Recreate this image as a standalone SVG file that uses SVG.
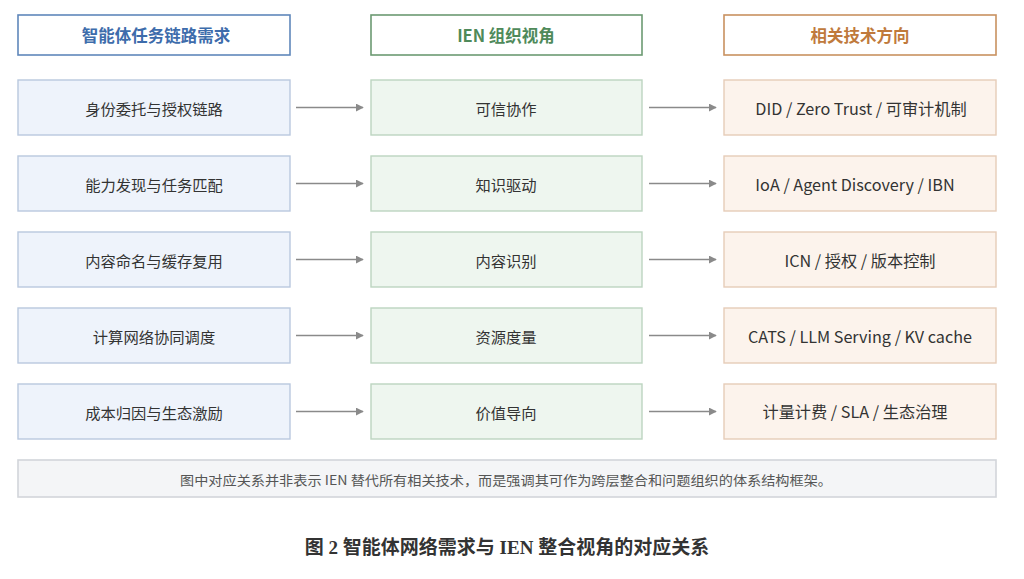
<svg xmlns="http://www.w3.org/2000/svg" width="1024" height="579" viewBox="0 0 1024 579">
<defs>
<style>
text{font-family:"Noto Sans CJK SC","Noto Sans",sans-serif;text-anchor:middle;dominant-baseline:central}
.t{font-size:15.3px;fill:#333}
.tl{font-size:16.2px}
.h{font-size:16.5px;font-weight:bold}
.hb{fill:#fff;stroke:#5f87bb;stroke-width:1.6}
.hg{fill:#fff;stroke:#6c9a72;stroke-width:1.6}
.ho{fill:#fff;stroke:#c99160;stroke-width:1.6}
.b{fill:#eef3fb;stroke:#b9c8de;stroke-width:1.4}
.g{fill:#eef6ef;stroke:#bcd5c0;stroke-width:1.4}
.o{fill:#fcf3ec;stroke:#e6ccb8;stroke-width:1.4}
.c{stroke:#8a8a8a;stroke-width:1.6;fill:none;marker-end:url(#ah)}
</style>
<marker id="ah" viewBox="0 0 10 10" refX="9" refY="5" markerWidth="5" markerHeight="5" orient="auto" markerUnits="strokeWidth"><path d="M0,0 L10,5 L0,10 z" fill="#8a8a8a"/></marker>
</defs>
<rect width="1024" height="579" fill="#fff"/>
<g id="h1"><rect class="hb" x="18" y="15" width="272" height="40"/><text class="h" x="156" y="35" fill="#3d6cab">智能体任务链路需求</text></g>
<g id="h2"><rect class="hg" x="371" y="15" width="271" height="40"/><text class="h" x="506" y="35" fill="#4f8a5a">IEN 组织视角</text></g>
<g id="h3"><rect class="ho" x="724" y="15" width="272" height="40"/><text class="h" x="860" y="35" fill="#c07a3c">相关技术方向</text></g>

<g id="l1"><rect class="b" x="18" y="80" width="272" height="55"/><text class="t" x="154" y="108">身份委托与授权链路</text></g>
<g id="l2"><rect class="b" x="18" y="156" width="272" height="55"/><text class="t" x="154" y="184">能力发现与任务匹配</text></g>
<g id="l3"><rect class="b" x="18" y="232" width="272" height="55"/><text class="t" x="154" y="260">内容命名与缓存复用</text></g>
<g id="l4"><rect class="b" x="18" y="308" width="272" height="55"/><text class="t" x="154" y="336">计算网络协同调度</text></g>
<g id="l5"><rect class="b" x="18" y="384" width="272" height="55"/><text class="t" x="154" y="412">成本归因与生态激励</text></g>

<g id="m1"><rect class="g" x="371" y="80" width="271" height="55"/><text class="t" x="506" y="108">可信协作</text></g>
<g id="m2"><rect class="g" x="371" y="156" width="271" height="55"/><text class="t" x="506" y="184">知识驱动</text></g>
<g id="m3"><rect class="g" x="371" y="232" width="271" height="55"/><text class="t" x="506" y="260">内容识别</text></g>
<g id="m4"><rect class="g" x="371" y="308" width="271" height="55"/><text class="t" x="506" y="336">资源度量</text></g>
<g id="m5"><rect class="g" x="371" y="384" width="271" height="55"/><text class="t" x="506" y="412">价值导向</text></g>

<g id="r1"><rect class="o" x="724" y="80" width="272" height="55"/><text class="t tl" x="861" y="108">DID / Zero Trust / 可审计机制</text></g>
<g id="r2"><rect class="o" x="724" y="156" width="272" height="55"/><text class="t tl" x="855" y="184">IoA / Agent Discovery / IBN</text></g>
<g id="r3"><rect class="o" x="724" y="232" width="272" height="55"/><text class="t tl" x="860" y="260">ICN / 授权 / 版本控制</text></g>
<g id="r4"><rect class="o" x="724" y="308" width="272" height="55"/><text class="t tl" x="860" y="336">CATS / LLM Serving / KV cache</text></g>
<g id="r5"><rect class="o" x="724" y="384" width="272" height="55"/><text class="t tl" x="855" y="411">计量计费 / SLA / 生态治理</text></g>

<g id="connectors">
<line class="c" x1="296" y1="107.5" x2="363" y2="107.5"/>
<line class="c" x1="296" y1="183.5" x2="363" y2="183.5"/>
<line class="c" x1="296" y1="259.5" x2="363" y2="259.5"/>
<line class="c" x1="296" y1="335.5" x2="363" y2="335.5"/>
<line class="c" x1="296" y1="411.5" x2="363" y2="411.5"/>
<line class="c" x1="649" y1="107.5" x2="716" y2="107.5"/>
<line class="c" x1="649" y1="183.5" x2="716" y2="183.5"/>
<line class="c" x1="649" y1="259.5" x2="716" y2="259.5"/>
<line class="c" x1="649" y1="335.5" x2="716" y2="335.5"/>
<line class="c" x1="649" y1="411.5" x2="716" y2="411.5"/>
</g>

<g id="note"><rect x="18" y="460" width="978" height="37" fill="#f4f5f7" stroke="#d2d5da" stroke-width="1.6"/><text x="506" y="479" font-size="13" fill="#555" textLength="652" lengthAdjust="spacingAndGlyphs">图中对应关系并非表示 IEN 替代所有相关技术，而是强调其可作为跨层整合和问题组织的体系结构框架。</text></g>

<text id="caption" x="507" y="547" font-size="19" font-weight="bold" fill="#333" style="font-family:'Liberation Serif','Noto Sans CJK SC',serif">图 2 智能体网络需求与 IEN 整合视角的对应关系</text>
</svg>
